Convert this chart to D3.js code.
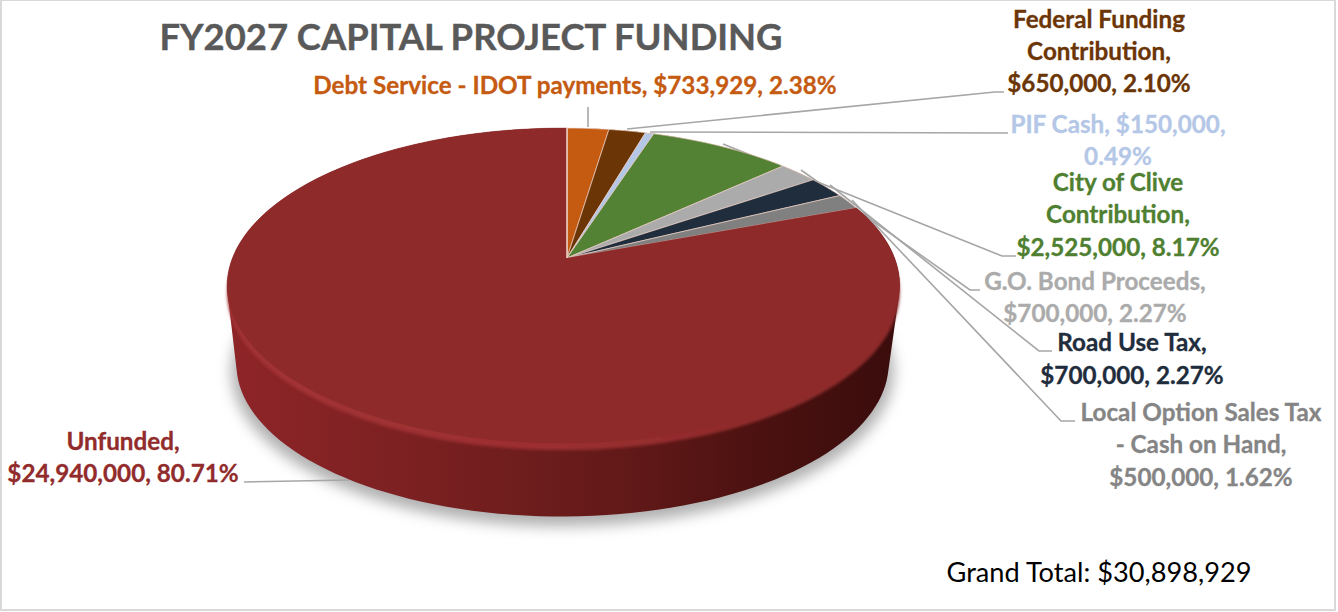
<!DOCTYPE html>
<html><head><meta charset="utf-8">
<script src="https://cdn.jsdelivr.net/npm/d3@7/dist/d3.min.js"></script>
<style>
html,body{margin:0;padding:0;background:#fff;overflow:hidden}
text{font-family:Lato,Carlito,sans-serif;font-weight:700;text-anchor:middle}
</style></head><body>
<svg id="c" width="1338" height="612"></svg>
<script>
const title = "FY2027 CAPITAL PROJECT FUNDING";
const grandTotal = "Grand Total: $30,898,929";
const categories = ["Debt Service - IDOT payments","Federal Funding Contribution","PIF Cash","City of Clive Contribution","G.O. Bond Proceeds","Road Use Tax","Local Option Sales Tax - Cash on Hand","Unfunded"];
const values = [733929,650000,150000,2525000,700000,700000,500000,24940000];
const colors = ["#C55A11","#6B3506","#B4C7E7","#548235","#ABABAB","#1F2D3D","#808080","#8E2A2A"];
const textColors = ["#C55A11","#6B3506","#B4C7E7","#4F7F31","#ABABAB","#1F2D3D","#858585","#922B2B"];
const labelLines = [
 ["Debt Service - IDOT payments, $733,929, 2.38%"],
 ["Federal Funding","Contribution,","$650,000, 2.10%"],
 ["PIF Cash, $150,000,","0.49%"],
 ["City of Clive","Contribution,","$2,525,000, 8.17%"],
 ["G.O. Bond Proceeds,","$700,000, 2.27%"],
 ["Road Use Tax,","$700,000, 2.27%"],
 ["Local Option Sales Tax","- Cash on Hand,","$500,000, 1.62%"],
 ["Unfunded,","$24,940,000, 80.71%"]
];
const labelX = [575,1099,1118,1118,1095,1132,1201,123];
const labelY = [[94],[28,60,92],[133,165],[191,223,256],[290,322],[351,384],[421,453,486],[450,482]];
const leaders = [
 [[588,127],[588,107]],
 [[627,129],[995,92],[1004,92]],
 [[650,132],[1008,133]],
 [[723,144],[1002,256],[1016,256]],
 [[801,170],[970,290],[980,290]],
 [[830,185],[1039,351],[1052,351]],
 [[852,200],[1061,421],[1075,421]],
 [[350,480],[244,482]]
];

const W=1338,H=612, svg=d3.select("#c");
const defs=svg.append("defs");
defs.append("filter").attr("id","blur").attr("x","-10%").attr("y","-10%").attr("width","120%").attr("height","130%")
  .append("feGaussianBlur").attr("stdDeviation",7);
defs.append("filter").attr("id","soft").append("feGaussianBlur").attr("stdDeviation",1.6);
const wall=defs.append("linearGradient").attr("id","wall");
[[0,"#8E2528"],[.3,"#7A2021"],[.6,"#611918"],[.8,"#4A1110"],[1,"#3A0C0C"]].forEach(s=>wall.append("stop").attr("offset",s[0]).attr("stop-color",s[1]));
const bev=defs.append("linearGradient").attr("id","bev");
[[0,"#A23034"],[.45,"#9C2F32"],[.8,"#8E2A2A"],[1,"#8E2A2A"]].forEach(s=>bev.append("stop").attr("offset",s[0]).attr("stop-color",s[1]));

// perspective projection of the tilted disc
const apex={x:567,y:258}, P={a:331,s:152.7,k:.175,j:.0105};
const project=(ang,r=1,q={dx:0,dy:0,f:1})=>{
  const u=Math.sin(ang)*r, v=-Math.cos(ang)*r, w=1-P.k*v+P.j*u;
  return [apex.x+q.dx+q.f*P.a*u/w, apex.y+q.dy+q.f*P.s*v/w];
};
const line=d3.line();
const ring=(q)=>line(d3.range(0,361,2).map(d=>project(d*Math.PI/180,1,q)))+"Z";
const base={dx:-1,dy:79,f:.97};

// frame
svg.append("rect").attr("x",1).attr("y",0).attr("width",W-4).attr("height",H-2)
  .attr("fill","#fff").attr("stroke","#d9d9d9").attr("stroke-width",2);

// shadow
svg.append("path").attr("d",ring({dx:-1,dy:86,f:.985})).attr("fill","#8f8f8f").attr("opacity",.7).attr("filter","url(#blur)");

// leaders below pie
svg.append("g").selectAll("path").data(leaders).join("path")
  .attr("d",d=>line(d)).attr("fill","none").attr("stroke","#A6A6A6").attr("stroke-width",1.6);

// side wall
const hull=d3.polygonHull(d3.range(0,360,2).flatMap(d=>[project(d*Math.PI/180,1),project(d*Math.PI/180,1,base)]));
svg.append("path").attr("d",line(hull)+"Z").attr("fill","url(#wall)");
// bevel
svg.append("path").attr("d",ring({dx:0,dy:7,f:1})).attr("fill","url(#bev)").attr("filter","url(#soft)");

// slices
const pie=d3.pie().sort(null)(values);
svg.append("g").selectAll("path").data(pie).join("path")
  .attr("d",d=>{
    const n=Math.max(2,Math.ceil((d.endAngle-d.startAngle)/.02));
    const pts=d3.range(n+1).map(i=>project(d.startAngle+(d.endAngle-d.startAngle)*i/n));
    return line([[apex.x,apex.y],...pts])+"Z";
  })
  .attr("fill",(d,i)=>colors[i])
  .attr("stroke",(d,i)=>i===7?"#8E2A2A":"#F2D8CC").attr("stroke-width",(d,i)=>i===7?.5:.8).attr("stroke-opacity",.85);
// seam at 12 o'clock
svg.append("path").attr("d",line([[apex.x,apex.y],project(0)])).attr("stroke","#F2D8CC").attr("stroke-width",1.5);

// labels
const fit=(t,k)=>t.each(function(){
  const len=this.getComputedTextLength();
  d3.select(this).attr("textLength",len*k).attr("lengthAdjust","spacingAndGlyphs");
});
labelLines.forEach((ls,i)=>{
  svg.append("g").selectAll("text").data(ls).join("text")
    .attr("x",labelX[i]).attr("y",(d,j)=>labelY[i][j])
    .attr("fill",textColors[i]).attr("stroke",textColors[i]).attr("stroke-width",.3)
    .attr("font-size",24).text(d=>d).call(fit,1.01);
});
svg.append("text").attr("x",471).attr("y",50).attr("fill","#595959").attr("stroke","#595959").attr("stroke-width",.4)
  .attr("font-size",37).text(title).call(fit,.983);
svg.append("text").attr("x",1099).attr("y",582).attr("fill","#000").attr("font-size",27)
  .style("font-weight",400).text(grandTotal).call(fit,1.007);
</script></body></html>
